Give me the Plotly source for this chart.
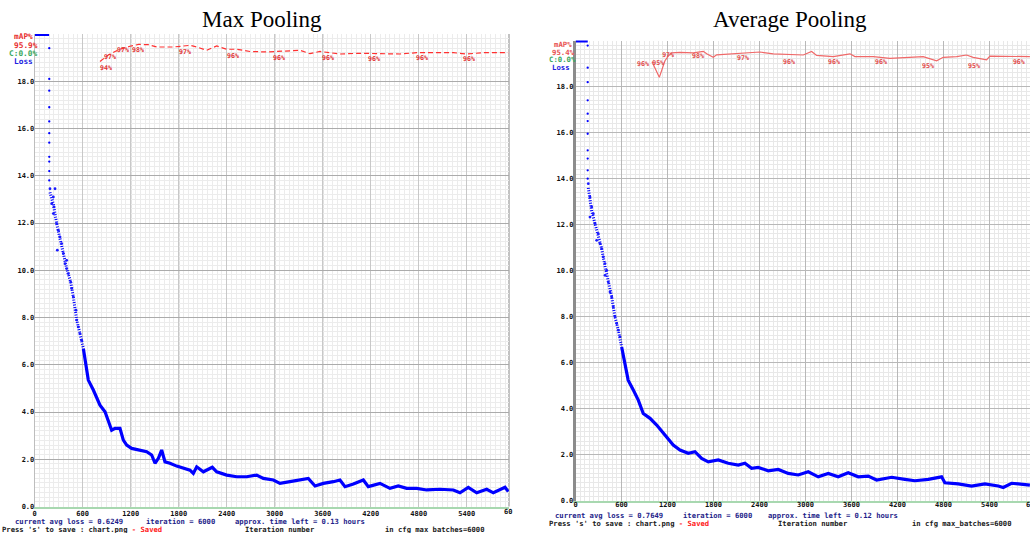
import plotly.graph_objects as go

W, H = 1030, 533

# ---------------- shared tick labels ----------------
x_ticks = [0, 600, 1200, 1800, 2400, 3000, 3600, 4200, 4800, 5400]
x_ticktext = [str(v) for v in x_ticks]
y_ticks = [0, 2, 4, 6, 8, 10, 12, 14, 16, 18]
y_ticktext = ["%.1f" % v for v in y_ticks]

# ---------------- Max Pooling data ----------------
mp_top_iter = [0, 180]
mp_top_loss = [20.0, 20.0]
mp_col_iter = [182] * 11
mp_col_loss = [19.4, 18.1, 17.6, 16.9, 16.3, 15.8, 15.4, 14.8, 14.6, 14.2, 13.8]
mp_early_iter = [191, 254, 233, 212, 241, 233, 275, 295, 283, 316, 337, 358, 379,
                 400, 400, 420, 450, 462, 483, 516, 525, 545, 566, 587]
mp_early_loss = [13.45, 13.45, 13.1, 12.82, 12.68, 12.4, 11.97, 11.69, 10.85, 11.41,
                 11.13, 10.71, 10.28, 10.42, 10.07, 9.86, 9.5, 9.23, 8.87, 8.31, 7.89,
                 7.6, 7.32, 7.04]
mp_band_iter = [191, 233, 275, 316, 358, 400, 450, 483, 525, 566, 608]
mp_band_loss = [13.3, 12.8, 11.97, 11.41, 10.71, 10.07, 9.5, 8.87, 7.89, 7.32, 6.69]
mp_iter = [608, 629, 648, 670, 733, 775, 816, 879, 920, 962, 1004, 1066, 1108, 1150,
           1212, 1316, 1400, 1462, 1504, 1546, 1587, 1629, 1691, 1775, 1858, 1941,
           1983, 2025, 2108, 2220, 2275, 2400, 2525, 2650, 2775, 2858, 2983, 3066,
           3191, 3316, 3420, 3504, 3608, 3733, 3816, 3879, 3983, 4108, 4170, 4316,
           4441, 4545, 4650, 4775, 4900, 5066, 5233, 5316, 5420, 5525, 5650, 5733,
           5879, 5920]
mp_loss = [6.69, 6.28, 5.86, 5.35, 4.93, 4.64, 4.29, 4.01, 3.66, 3.23, 3.31, 3.31,
           2.81, 2.60, 2.46, 2.39, 2.32, 2.18, 1.83, 2.04, 2.39, 1.89, 1.83, 1.71,
           1.62, 1.54, 1.40, 1.68, 1.47, 1.66, 1.47, 1.33, 1.26, 1.26, 1.33, 1.19,
           1.12, 0.98, 1.05, 1.12, 1.19, 0.87, 0.98, 1.05, 1.12, 0.84, 0.95, 1.12,
           0.84, 0.98, 0.77, 0.87, 0.77, 0.77, 0.70, 0.73, 0.70, 0.58, 0.81, 0.58,
           0.73, 0.58, 0.81, 0.63]
mp_map_iter = [816, 916, 1004, 1088, 1191, 1300, 1420, 1525, 1733, 1941, 2025, 2150,
               2275, 2400, 2525, 2691, 2900, 3191, 3316, 3441, 3566, 3816, 4066, 4566,
               4775, 5233, 5400, 5608, 5920]
mp_map_val = [94.2, 95.5, 96.3, 96.9, 97.4, 97.8, 97.74, 97.25, 97.25, 97.6, 97.25,
              96.55, 97.46, 96.77, 96.77, 96.3, 96.2, 96.34, 96.55, 95.83, 96.3, 95.77,
              95.92, 95.77, 96.05, 96.05, 95.77, 96.05, 96.05]
mp_lab_iter = [816, 866, 1030, 1216, 1804, 2404, 2979, 3591, 4166, 4766, 5354]
mp_lab_text = ["94%", "97%", "97%", "98%", "97%", "96%", "96%", "96%", "96%", "96%", "96%"]
mp_lab_pos = [92.81, 95.05, 96.5, 96.47, 96.19, 95.2, 94.93, 94.93, 94.71, 94.93, 94.71]

# ---------------- Average Pooling data ----------------
ap_top_iter = [0, 160]
ap_top_loss = [20.0, 20.0]
ap_col_iter = [159] * 11
ap_col_loss = [19.78, 18.82, 18.19, 17.4, 16.82, 16.5, 15.95, 15.23, 14.87, 14.36, 14.0]
ap_early_iter = [167, 189, 211, 189, 232, 254, 297, 276, 319, 341, 362, 385, 407, 385,
                 428, 450, 472, 493, 515, 537, 558, 580]
ap_early_loss = [13.78, 13.2, 12.77, 12.33, 12.48, 12.05, 11.61, 11.32, 11.18, 10.96,
                 10.6, 10.31, 10.02, 9.8, 9.51, 9.08, 8.86, 8.43, 8.0, 7.71, 7.42, 7.13]
ap_band_iter = [167, 211, 254, 297, 341, 385, 428, 472, 515, 558, 602]
ap_band_loss = [13.6, 12.6, 12.05, 11.5, 10.96, 10.2, 9.51, 8.86, 8.0, 7.42, 6.69]
ap_iter = [602, 632, 658, 687, 754, 819, 884, 972, 1059, 1145, 1210, 1275, 1363, 1471,
           1558, 1645, 1732, 1862, 1992, 2123, 2210, 2297, 2384, 2514, 2645, 2775,
           2905, 3036, 3166, 3297, 3427, 3557, 3688, 3818, 3928, 4123, 4297, 4427,
           4601, 4775, 4818, 4992, 5166, 5340, 5514, 5579, 5688, 5818, 5927]
ap_loss = [6.69, 6.12, 5.68, 5.25, 4.82, 4.38, 3.80, 3.59, 3.30, 2.94, 2.65, 2.43,
           2.21, 2.07, 2.14, 1.85, 1.70, 1.78, 1.64, 1.56, 1.64, 1.42, 1.46, 1.31,
           1.37, 1.20, 1.13, 1.27, 1.05, 1.20, 1.05, 1.23, 1.05, 1.08, 0.91, 1.03,
           0.94, 0.88, 0.94, 1.05, 0.79, 0.74, 0.65, 0.74, 0.65, 0.59, 0.77, 0.74, 0.69]
ap_map_iter = [998, 1093, 1167, 1210, 1254, 1362, 1536, 1667, 1711, 1797, 1841, 2058,
               2276, 2406, 2580, 2840, 2971, 3080, 3145, 3362, 3580, 3645, 3884, 4101,
               4319, 4535, 4710, 4796, 4971, 5101, 5187, 5362, 5405, 5753, 5927]
ap_map_val = [95.4, 92.0, 95.6, 96.6, 97.3, 97.4, 97.3, 97.65, 97.1, 96.35, 96.9, 97.1,
              97.3, 97.5, 97.1, 97.0, 96.85, 97.6, 96.75, 96.5, 97.1, 96.5, 96.5, 96.1,
              96.35, 96.5, 95.6, 96.35, 96.5, 96.85, 96.35, 95.8, 96.6, 96.6, 96.5]
ap_lab_iter = [802, 1000, 1130, 1519, 2106, 2706, 3293, 3906, 4519, 5119, 5705]
ap_lab_text = ["96%", "95%", "97%", "98%", "97%", "96%", "96%", "96%", "95%", "95%", "96%"]
ap_lab_pos = [94.74, 94.95, 96.7, 96.57, 96.05, 95.18, 95.18, 95.18, 94.31, 94.31, 95.18]

BLUE = "#0000ff"
MONO = "DejaVu Sans Mono"

fig = go.Figure()


def add_panel(xa, ya, ma, top_i, top_l, col_i, col_l, early_i, early_l, band_i, band_l,
              main_i, main_l, map_i, map_v, map_color, map_dash, lab_i, lab_t, lab_p,
              lab_color):
    fig.add_trace(go.Scatter(x=top_i, y=top_l, mode="lines", xaxis=xa, yaxis=ya,
                             line=dict(color=BLUE, width=4), hoverinfo="skip"))
    fig.add_trace(go.Scatter(x=col_i, y=col_l, mode="markers", xaxis=xa, yaxis=ya,
                             marker=dict(color=BLUE, size=2.3), hoverinfo="skip"))
    fig.add_trace(go.Scatter(x=band_i, y=band_l, mode="lines", xaxis=xa, yaxis=ya,
                             line=dict(color=BLUE, width=3, dash="1px,1.5px"),
                             hoverinfo="skip"))
    fig.add_trace(go.Scatter(x=early_i, y=early_l, mode="markers", xaxis=xa, yaxis=ya,
                             marker=dict(color="#1a1aff", size=2.8), hoverinfo="skip"))
    fig.add_trace(go.Scatter(x=main_i, y=main_l, mode="lines", xaxis=xa, yaxis=ya,
                             line=dict(color=BLUE, width=3.2), hoverinfo="skip"))
    fig.add_trace(go.Scatter(x=map_i, y=map_v, mode="lines", xaxis=xa, yaxis=ma,
                             line=dict(color=map_color, width=1.2, dash=map_dash),
                             hoverinfo="skip"))
    fig.add_trace(go.Scatter(x=lab_i, y=lab_p, mode="text", text=lab_t, xaxis=xa, yaxis=ma,
                             textposition="middle right",
                             textfont=dict(family=MONO, size=6.6, color=lab_color,
                                           weight="bold"),
                             hoverinfo="skip", cliponaxis=False))


add_panel("x", "y", "y3", mp_top_iter, mp_top_loss, mp_col_iter, mp_col_loss,
          mp_early_iter, mp_early_loss, mp_band_iter, mp_band_loss, mp_iter, mp_loss,
          mp_map_iter, mp_map_val, "#ff3030", "5px,3px",
          mp_lab_iter, mp_lab_text, mp_lab_pos, "#e03030")
add_panel("x2", "y2", "y4", ap_top_iter, ap_top_loss, ap_col_iter, ap_col_loss,
          ap_early_iter, ap_early_loss, ap_band_iter, ap_band_loss, ap_iter, ap_loss,
          ap_map_iter, ap_map_val, "#f06868", None,
          ap_lab_iter, ap_lab_text, ap_lab_pos, "#e04848")

tickfont = dict(family=MONO, size=7, color="#111111", weight="bold")


def xaxis(domain, rng, major, minor, anchor, standoff):
    return dict(domain=domain, range=rng, anchor=anchor, tickmode="array",
                tickvals=x_ticks, ticktext=x_ticktext, tickfont=tickfont, ticks="",
                ticklabelstandoff=standoff,
                showgrid=True, gridcolor=major, gridwidth=1, zeroline=False,
                showline=True, linecolor="#a8d8b0", linewidth=2,
                minor=dict(dtick=60, tick0=0, showgrid=True, gridcolor=minor, ticks=""),
                fixedrange=True)


def yaxis(domain, major, minor, anchor, linecolor, linewidth):
    return dict(domain=domain, range=[0, 20], anchor=anchor, tickmode="array",
                tickvals=y_ticks, ticktext=y_ticktext, tickfont=tickfont, ticks="",
                ticklabelstandoff=-2,
                showgrid=True, gridcolor=major, gridwidth=1, zeroline=False,
                showline=True, linecolor=linecolor, linewidth=linewidth,
                minor=dict(dtick=0.2, tick0=0, showgrid=True, gridcolor=minor, ticks=""),
                fixedrange=True)


L_x0, L_x1, L_yb, L_yt = 34.7, 509.0, 506.5, 34.0
R_x0, R_x1, R_yb, R_yt = 575.5, 1030.0, 501.0, 40.5

fig.update_layout(
    width=W, height=H, margin=dict(l=0, r=0, t=0, b=0, autoexpand=False),
    paper_bgcolor="white", plot_bgcolor="white", showlegend=False,
    xaxis=xaxis([L_x0 / W, L_x1 / W], [0, (L_x1 - L_x0) * 12.5], "#c8c8c8", "#ececec",
                "y", -1),
    yaxis=yaxis([1 - L_yb / H, 1 - L_yt / H], "#ababab", "#ececec", "x", "#bdbdbd", 1),
    xaxis2=xaxis([R_x0 / W, R_x1 / W], [0, (R_x1 - R_x0) * 600 / 46], "#b8b8b8", "#e8e8e8",
                 "y2", -4),
    yaxis2=yaxis([1 - R_yb / H, 1 - R_yt / H], "#b8b8b8", "#e8e8e8", "x2", "#8c8c8c", 2.5),
    yaxis3=dict(overlaying="y", anchor="x", range=[0, 100], visible=False, fixedrange=True),
    yaxis4=dict(overlaying="y2", anchor="x2", range=[0, 100], visible=False, fixedrange=True),
)

# darker major verticals of the left chart + its right border
shapes = []
for v in [1200, 1800, 3000, 3600]:
    shapes.append(dict(type="line", xref="x", yref="y domain", x0=v, x1=v, y0=0, y1=1,
                       line=dict(color="#9a9a9a", width=1.2), layer="below"))
shapes.append(dict(type="line", xref="x domain", yref="y domain", x0=1, x1=1, y0=0, y1=1,
                   line=dict(color="#9a9a9a", width=1.2), layer="below"))
fig.update_layout(shapes=shapes)

ann = []


def text(px, py, s, color, size, family=MONO, anchor="left", weight="bold"):
    ann.append(dict(x=px / W, y=1 - py / H, xref="paper", yref="paper", text=s,
                    showarrow=False, xanchor=anchor, yanchor="middle",
                    font=dict(family=family, size=size, color=color, weight=weight)))


# titles
text(262, 20, "Max Pooling", "#000000", 23, "Liberation Serif", "center", "normal")
text(790, 20, "Average Pooling", "#000000", 23, "Liberation Serif", "center", "normal")

# legend texts
text(11.5, 37, "mAP%", "#e83030", 7.8)
text(11.5, 45.2, "95.9%", "#e83030", 7.8)
text(7, 53.7, "C:0.0%", "#3aa860", 7.8)
text(11.5, 62, "Loss", "#2020e0", 7.8)
text(551.5, 45, "mAP%", "#e85050", 7.3)
text(550, 52.5, "95.4%", "#e85050", 7.3)
text(546.5, 60, "C:0.0%", "#3aa860", 7.3)
text(550, 67.5, "Loss", "#2020e0", 7.3)

# truncated last tick labels (chart is cropped at the right)
text(501.5, 511.5, "60", "#111111", 7)
text(1024.3, 505, "6", "#111111", 7)

# status lines
NAVY = "#1e1e8a"
FS = 7.2
text(13.3, 521.2, "current avg loss = 0.6249", NAVY, FS)
text(144, 521.2, "iteration = 6000", NAVY, FS)
text(232.7, 521.2, "approx. time left = 0.13 hours", NAVY, FS)
text(0, 529, "Press 's' to save : chart.png <span style='color:#ff2020'>- Saved</span>",
     "#202020", FS)
text(243, 529, "Iteration number", "#202020", FS)
text(383, 529, "in cfg max_batches=6000", "#202020", FS)

text(552.7, 515, "current avg loss = 0.7649", NAVY, FS)
text(680.7, 515, "iteration = 6000", NAVY, FS)
text(766, 515, "approx. time left = 0.12 hours", NAVY, FS)
text(547.3, 523.5, "Press 's' to save : chart.png <span style='color:#ff2020'>- Saved</span>",
     "#202020", FS)
text(776, 523.5, "Iteration number", "#202020", FS)
text(910, 523.5, "in cfg max_batches=6000", "#202020", FS)

fig.update_layout(annotations=ann)

fig.write_html("out.html", config={"displayModeBar": False},
               post_script="document.body.style.margin='0px';document.body.style.padding='0px';")
